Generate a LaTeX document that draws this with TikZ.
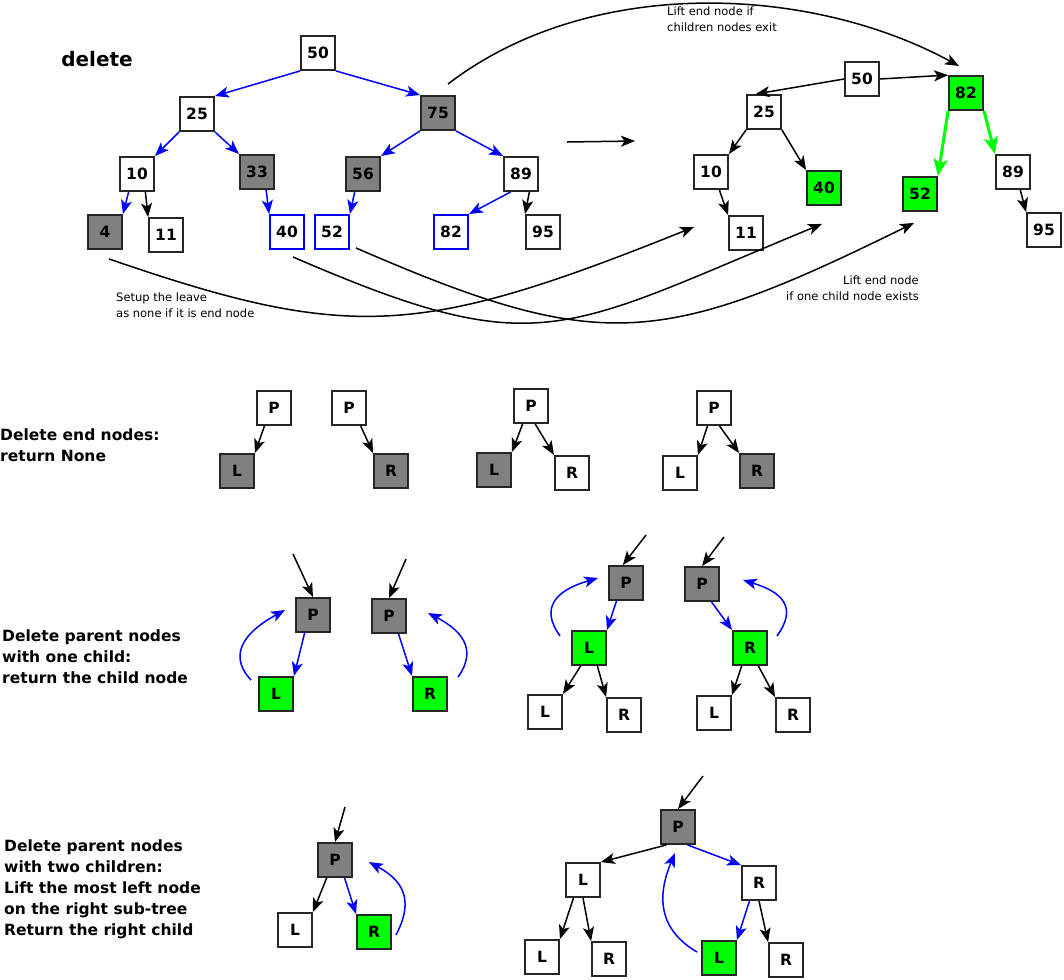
\documentclass[tikz,border=0pt]{standalone}
\usepackage{fontspec}
\setmainfont{DejaVu Sans}
\usetikzlibrary{arrows.meta}

\definecolor{nodegray}{RGB}{128,128,128}
\definecolor{litgreen}{RGB}{0,255,0}
\definecolor{linkblue}{RGB}{0,0,255}

\tikzset{
  box/.style={draw=black!85, line width=1.9pt, fill=white, minimum width=34pt,
    minimum height=34pt, inner sep=0pt, font=\bfseries\fontsize{15.5}{18}\selectfont},
  gone/.style={box, fill=nodegray},
  lifted/.style={box, fill=litgreen},
  moved/.style={box, draw=linkblue},
  link/.style={line width=1.5pt, ->},
  bluelink/.style={link, color=linkblue},
  greenlink/.style={line width=3pt, color=litgreen, -{Stealth[length=17pt,width=14pt,inset=4pt]}},
  note/.style={inner sep=0pt, font=\fontsize{11.5}{16}\selectfont},
  caption/.style={inner sep=0pt, anchor=west, align=left, font=\bfseries\fontsize{15.5}{21}\selectfont}
}

\begin{document}
\begin{tikzpicture}[x=1pt, y=-1pt, >={Stealth[length=14pt,width=11pt,inset=3.5pt]}]
  \path[use as bounding box, fill=white] (0,0) rectangle (1064,979);

  \node[inner sep=0pt, font=\bfseries\fontsize{20}{24}\selectfont] (title) at (97,59) {delete};

  \node[box] (d50) at (318,53) {50};
  \node[box] (d25) at (197,114) {25};
  \node[gone] (d75) at (438,113) {75};
  \node[box] (d10) at (137,174) {10};
  \node[gone] (d33) at (257,172) {33};
  \node[gone] (d56) at (363,174) {56};
  \node[box] (d89) at (521,174) {89};
  \node[gone] (d4) at (105,232) {4};
  \node[box] (d11) at (166,235) {11};
  \node[moved] (d40) at (287,232) {40};
  \node[moved] (d52) at (332,232) {52};
  \node[moved] (d82) at (451,232) {82};
  \node[box] (d95) at (543,232) {95};

  \draw[bluelink] (d50.south west) -- (d25.north east);
  \draw[bluelink] (d50.south east) -- (d75.north west);
  \draw[bluelink] (d25.south west) -- (d10.north east);
  \draw[bluelink] (d25.south east) -- (d33.north west);
  \draw[bluelink] (d75.south west) -- (d56.north east);
  \draw[bluelink] (d75.south east) -- (d89.north west);
  \draw[bluelink] (d10.245) -- (d4.north east);
  \draw[link] (d10.295) -- (d11.north west);
  \draw[bluelink] (d33.297) -- (d40.north west);
  \draw[bluelink] (d56.245) -- (d52.north east);
  \draw[bluelink] (d89.240) -- (d82.north east);
  \draw[link] (d89.295) -- (d95.north west);

  \coordinate (gofrom) at (567,142);
  \coordinate (goto) at (635,141);
  \draw[link] (gofrom) -- (goto);

  \node[box] (r50) at (862,79) {50};
  \node[lifted] (r82) at (966,93) {82};
  \node[box] (r25) at (764,112) {25};
  \node[box] (r10) at (711,172) {10};
  \node[lifted] (r40) at (824,188) {40};
  \node[lifted] (r52) at (920,194) {52};
  \node[box] (r89) at (1013,172) {89};
  \node[box] (r11) at (746,233) {11};
  \node[box] (r95) at (1044,230) {95};

  \draw[link] (r50.west) -- (r25.115);
  \draw[link] (r50.east) -- (r82.north west);
  \draw[link] (r25.south west) -- (r10.north east);
  \draw[link] (r25.south east) -- (r40.north west);
  \draw[link] (r10.295) -- (r11.north west);
  \draw[greenlink] (r82.south west) -- (r52.north east);
  \draw[greenlink] (r82.south east) -- (r89.north west);
  \draw[link] (r89.292) -- (r95.north west);

  \draw[link] ([shift={(-8,-11)}]d75.north east) .. controls (590,-25) and (810,-15) .. ([shift={(-7,-9)}]r82.north);
  \draw[link] ([shift={(4,9)}]d4.south) .. controls (350,342) and (420,337) .. ([shift={(-34,-6)}]r11.west);
  \draw[link] ([shift={(6,7)}]d40.south) .. controls (540,364) and (560,332) .. ([shift={(-2,18)}]r40.south);
  \draw[link] ([shift={(6,-2)}]d52.south east) .. controls (600,354) and (660,348) .. ([shift={(-6,11)}]r52.south);

  \node[note, anchor=north west, align=left] (liftboth) at (667,7) {Lift end node if\\children nodes exit};
  \node[note, anchor=north west, align=left] (setnone) at (116,293) {Setup the leave\\as none if it is end node};
  \node[note, anchor=north east, align=right] (liftone) at (919,276) {Lift end node\\if one child node exists};

  \node[caption] (endcap) at (0,445) {Delete end nodes:\\return None};
  \node[box] (e1p) at (274,408) {P};
  \node[gone] (e1l) at (237,471) {L};
  \node[box] (e2p) at (349,408) {P};
  \node[gone] (e2r) at (391,471) {R};
  \node[box] (e3p) at (531,406) {P};
  \node[gone] (e3l) at (494,470) {L};
  \node[box] (e3r) at (572,473) {R};
  \node[box] (e4p) at (714,408) {P};
  \node[box] (e4l) at (680,473) {L};
  \node[gone] (e4r) at (757,471) {R};
  \draw[link] (e1p.242) -- (e1l.north east);
  \draw[link] (e2p.303) -- (e2r.north west);
  \draw[link] (e3p.245) -- (e3l.north east);
  \draw[link] (e3p.283) -- (e3r.north west);
  \draw[link] (e4p.250) -- (e4l.north east);
  \draw[link] (e4p.287) -- (e4r.north west);

  \node[caption] (onecap) at (2,657) {Delete parent nodes\\with one child:\\return the child node};
  \node[gone] (o1p) at (313,615) {P};
  \node[lifted] (o1l) at (276,694) {L};
  \node[gone] (o2p) at (389,616) {P};
  \node[lifted] (o2r) at (430,694) {R};
  \node[gone] (o3p) at (626,583) {P};
  \node[lifted] (o3l) at (589,648) {L};
  \node[box] (o3ll) at (545,712) {L};
  \node[box] (o3lr) at (624,715) {R};
  \node[gone] (o4p) at (702,584) {P};
  \node[lifted] (o4r) at (750,648) {R};
  \node[box] (o4rl) at (714,713) {L};
  \node[box] (o4rr) at (793,715) {R};
  \coordinate (o1in) at (293,554);
  \coordinate (o2in) at (406,559);
  \coordinate (o3in) at (646,535);
  \coordinate (o4in) at (724,537);
  \draw[link] (o1in) -- (o1p.north);
  \draw[link] (o2in) -- (o2p.north);
  \draw[link] (o3in) -- (o3p.100);
  \draw[link] (o4in) -- (o4p.north);
  \draw[bluelink] (o1p.245) -- (o1l.north east);
  \draw[bluelink] (o2p.298) -- (o2r.north west);
  \draw[bluelink] (o3p.242) -- (o3l.north east);
  \draw[bluelink] (o4p.298) -- (o4r.north west);
  \draw[link] (o3l.245) -- (o3ll.north east);
  \draw[link] (o3l.295) -- (o3lr.north west);
  \draw[link] (o4r.245) -- (o4rl.north east);
  \draw[link] (o4r.295) -- (o4rr.north west);
  \draw[bluelink] ([shift={(-7,4)}]o1l.north west) .. controls (224,651) and (252,628) .. ([shift={(-10,-5)}]o1p.west);
  \draw[bluelink] ([shift={(10,1)}]o2r.north east) .. controls (479,648) and (459,629) .. ([shift={(21,-3)}]o2p.east);
  \draw[bluelink] ([shift={(-11,6)}]o3l.north west) .. controls (539,607) and (557,590) .. ([shift={(-10,-5)}]o3p.west);
  \draw[bluelink] ([shift={(9,6)}]o4r.north east) .. controls (798,607) and (782,592) .. ([shift={(23,-4)}]o4p.east);

  \node[caption] (twocap) at (4,889) {Delete parent nodes\\with two children:\\Lift the most left node\\on the right sub-tree\\Return the right child};
  \node[gone] (t1p) at (335,860) {P};
  \node[box] (t1l) at (295,930) {L};
  \node[lifted] (t1r) at (374,932) {R};
  \node[gone] (t2p) at (678,827) {P};
  \node[box] (t2l) at (583,880) {L};
  \node[box] (t2r) at (759,883) {R};
  \node[box] (t2ll) at (542,957) {L};
  \node[box] (t2lr) at (609,959) {R};
  \node[lifted] (t2rl) at (719,958) {L};
  \node[box] (t2rr) at (786,960) {R};
  \coordinate (t1in) at (345,807);
  \coordinate (t2in) at (703,776);
  \draw[link] (t1in) -- (t1p.north);
  \draw[link] (t2in) -- (t2p.north);
  \draw[link] (t1p.245) -- (t1l.north east);
  \draw[bluelink] (t1p.298) -- (t1r.north west);
  \draw[link] (t2p.237) -- (t2l.north east);
  \draw[bluelink] (t2p.298) -- (t2r.north west);
  \draw[link] (t2l.242) -- (t2ll.north east);
  \draw[link] (t2l.south) -- (t2lr.north west);
  \draw[bluelink] (t2r.242) -- (t2rl.north east);
  \draw[link] (t2r.south) -- (t2rr.north west);
  \draw[bluelink] ([shift={(4,3)}]t1r.east) .. controls (415,899) and (402,880) .. ([shift={(16,2)}]t1p.east);
  \draw[bluelink] ([shift={(-4,12)}]t2rl.north west) .. controls (658,929) and (657,896) .. ([shift={(-3,8)}]t2p.south);
\end{tikzpicture}
\end{document}
